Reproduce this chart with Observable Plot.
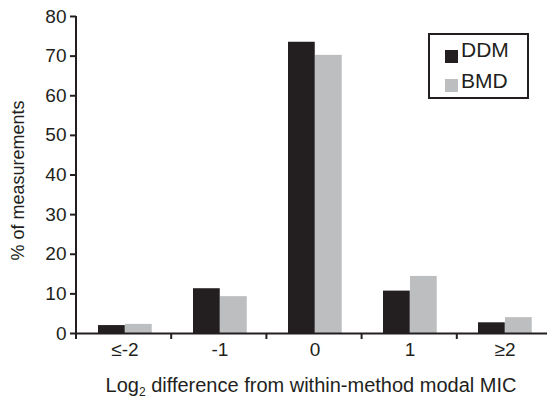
<!DOCTYPE html>
<html><head><meta charset="utf-8">
<script src="https://cdn.jsdelivr.net/npm/d3@7"></script>
<script src="https://cdn.jsdelivr.net/npm/@observablehq/plot@0.6"></script>
<style>
body{margin:0;background:#fff}
#chart{position:relative;width:547px;height:400px}
</style></head>
<body><div id="chart"></div>
<script>
const categories = ["≤-2", "-1", "0", "1", "≥2"];
const methods = ["DDM", "BMD"];
const ddmValues = [2.0, 11.3, 73.5, 10.7, 2.7];
const bmdValues = [2.3, 9.3, 70.2, 14.4, 4.0];
const yTicks = [0, 10, 20, 30, 40, 50, 60, 70, 80];
const yLabel = "% of measurements";
const xLabelMain = "Log";
const xLabelSub = "2";
const xLabelRest = " difference from within-method modal MIC";

const ink = "#231f20";
const gray = "#bcbec0";
const font = "'Liberation Sans', Arial, Helvetica, sans-serif";

const ddmData = categories.map((c, i) => ({category: c, method: "DDM", value: ddmValues[i]}));
const bmdData = categories.map((c, i) => ({category: c, method: "BMD", value: bmdValues[i]}));

const plot = Plot.plot({
  width: 547,
  height: 400,
  marginLeft: 76,
  marginRight: 0,
  marginTop: 16,
  marginBottom: 67,
  style: {fontFamily: font, fontSize: "19px", color: ink, background: "white"},
  x: {domain: categories, range: [76, 552], padding: 0, tickSize: 0, tickPadding: 9, label: null},
  y: {domain: [0, 80], ticks: yTicks, tickSize: 6, tickPadding: 4, label: null},
  marks: [
    Plot.barY(ddmData, {x: "category", y: "value", fill: ink, insetLeft: 21, insetRight: 47.25}),
    Plot.barY(bmdData, {x: "category", y: "value", fill: gray, insetLeft: 48, insetRight: 20.25}),
    Plot.ruleY([0], {stroke: ink, strokeWidth: 2})
  ]
});

document.getElementById("chart").appendChild(plot);

const svg = d3.select(plot);
svg.selectAll('g[aria-label="y-axis tick"]').attr("stroke-width", 2).attr("stroke", ink);
// enlarge axis tick labels
svg.selectAll("text").style("font-size", "19px").attr("fill", ink);
svg.selectAll("g").filter(function() { return this.getAttribute("font-size"); }).attr("font-size", null);

const sy = plot.scale("y");
const sx = plot.scale("x");
const band = d3.scaleBand(sx.domain, sx.range).paddingInner(0).paddingOuter(0);
const y0 = sy.apply(0), yTop = sy.apply(80);

const g = svg.append("g").attr("stroke", ink).attr("stroke-width", 2).attr("fill", "none");
// y axis line
g.append("line").attr("x1", 76).attr("x2", 76).attr("y1", yTop).attr("y2", y0 + 1);
// boundary ticks on x axis
g.selectAll("line.bt").data(categories).join("line").attr("class", "bt")
  .attr("x1", d => band(d)).attr("x2", d => band(d))
  .attr("y1", y0).attr("y2", y0 + 6);

// y label
svg.append("text")
  .attr("transform", `translate(24,${(y0 + yTop) / 2 + 6}) rotate(-90)`)
  .attr("text-anchor", "middle")
  .attr("font-family", font).style("font-size", "18px").attr("fill", ink)
  .text(yLabel);

// x title
const xt = svg.append("text")
  .attr("x", 311).attr("y", 392)
  .attr("text-anchor", "middle")
  .attr("font-family", font).style("font-size", "20px").attr("fill", ink);
xt.append("tspan").text(xLabelMain);
xt.append("tspan").style("font-size", "12px").attr("dy", 4).text(xLabelSub);
xt.append("tspan").attr("dy", -4).text(xLabelRest);

// legend
const lg = svg.append("g").attr("font-family", font).style("font-size", "21px").attr("fill", ink).attr("text-anchor", "start");
lg.append("rect").attr("x", 429).attr("y", 34).attr("width", 99).attr("height", 64)
  .attr("fill", "white").attr("stroke", ink).attr("stroke-width", 2);
const legColors = [ink, gray];
methods.forEach((m, i) => {
  lg.append("rect").attr("x", 445).attr("y", 50 + i * 29).attr("width", 13).attr("height", 13).attr("fill", legColors[i]);
  lg.append("text").attr("x", 461).attr("y", 57 + i * 31).attr("text-anchor", "start").text(m);
});
</script>
</body></html>
